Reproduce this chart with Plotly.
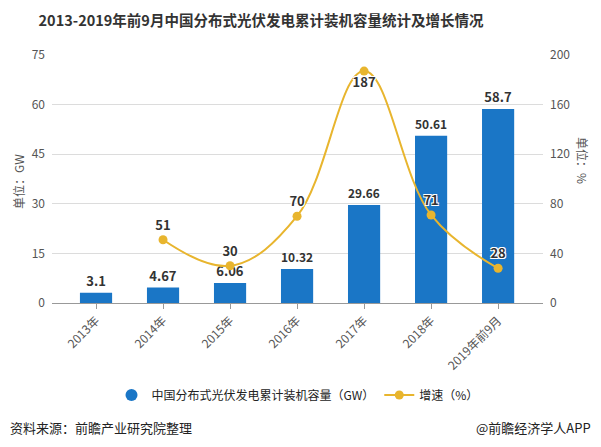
import plotly.graph_objects as go

categories = ["2013年", "2014年", "2015年", "2016年", "2017年", "2018年", "2019年前9月"]
capacity = [3.1, 4.67, 6.06, 10.32, 29.66, 50.61, 58.7]
growth_cats = ["2014年", "2015年", "2016年", "2017年", "2018年", "2019年前9月"]
growth = [51, 30, 70, 187, 71, 28]
left_ticks = [0, 15, 30, 45, 60, 75]
right_ticks = [0, 40, 80, 120, 160, 200]

W, H = 601, 447
L, R, T, B = 52, 543, 55, 303
FONT = "Noto Sans CJK SC, Noto Sans, sans-serif"
BLUE = "#1a76c6"
GOLD = "#e8b52e"

def px_x(p):
    return (p - L) / (R - L)

def px_y(p):
    return (B - p) / (B - T)

idx = {c: i for i, c in enumerate(categories)}

fig = go.Figure()
fig.add_trace(go.Bar(
    x=list(range(len(categories))), y=capacity, name="中国分布式光伏发电累计装机容量（GW）",
    marker=dict(color=BLUE, line=dict(width=0)), width=0.48,
    text=[f"{v:g}" for v in capacity], textposition="outside",
    textfont=dict(family=FONT, size=13, color="#333333", weight="bold"),
    cliponaxis=False, yaxis="y", showlegend=False,
))
# legend entry for the bar series (circle symbol as in the reference)
fig.add_trace(go.Scatter(
    x=[None], y=[None], mode="markers", name="中国分布式光伏发电累计装机容量（GW）",
    marker=dict(color=BLUE, size=12, symbol="circle"), yaxis="y",
))
fig.add_trace(go.Scatter(
    x=[idx[c] for c in growth_cats], y=growth, name="增速（%）",
    mode="lines+markers+text", line=dict(color=GOLD, width=2, shape="spline", smoothing=1.1),
    marker=dict(color=GOLD, size=9),
    text=[str(v) for v in growth],
    textposition=["top center" if v < 150 else "bottom center" for v in growth],
    textfont=dict(family=FONT, size=13, color="#333333", weight="bold",
                  shadow="-1px -1px 0 #fff, 1px -1px 0 #fff, -1px 1px 0 #fff, 1px 1px 0 #fff"),
    cliponaxis=False, yaxis="y2",
))

fig.update_layout(
    width=W, height=H,
    margin=dict(l=L, r=W - R, t=T, b=H - B, pad=0, autoexpand=False),
    paper_bgcolor="white", plot_bgcolor="white",
    font=dict(family=FONT, size=12, color="#555555"),
    title=dict(text="<b>2013-2019年前9月中国分布式光伏发电累计装机容量统计及增长情况</b>",
               x=px_x(261), xref="paper", xanchor="center", yref="container", y=1 - 21 / H,
               yanchor="middle", font=dict(family=FONT, size=14.5, color="#333333")),
    xaxis=dict(range=[-0.657, 6.67], tickmode="array", tickvals=list(range(len(categories))),
               ticktext=categories, tickangle=-45, showgrid=False, showline=True,
               linecolor="#999999", linewidth=1, ticks="outside", ticklen=5, tickcolor="#999999",
               tickfont=dict(size=12, color="#555555"), zeroline=False, automargin=False),
    yaxis=dict(range=[0, 75], tickvals=left_ticks, showgrid=True, gridcolor="#dcdcdc",
               zeroline=False, showline=False, ticks="", tickfont=dict(size=12, color="#555555"),
               ticklabelstandoff=6, automargin=False),
    yaxis2=dict(range=[0, 200], tickvals=right_ticks, overlaying="y", side="right",
                showgrid=False, zeroline=False, showline=False, ticks="",
                tickfont=dict(size=12, color="#555555"), ticklabelstandoff=6, automargin=False),
    legend=dict(orientation="h", x=0.5, xanchor="center", yref="container", y=1 - 395 / H,
                yanchor="middle", font=dict(family=FONT, size=12, color="#222222"),
                itemwidth=30, traceorder="normal"),
    showlegend=True,
)

ann = [
    dict(text="单位：GW", x=px_x(18), y=px_y(182), textangle=-90, font=dict(size=12, color="#555555")),
    dict(text="单位：%", x=px_x(583), y=px_y(160), textangle=90, font=dict(size=12, color="#555555")),
    dict(text="资料来源：前瞻产业研究院整理", x=px_x(8), y=px_y(427), xanchor="left",
         font=dict(size=13, color="#222222")),
    dict(text="@前瞻经济学人APP", x=px_x(593), y=px_y(427), xanchor="right",
         font=dict(size=13, color="#222222")),
]
for a in ann:
    a.setdefault("xanchor", "center")
    fig.add_annotation(xref="paper", yref="paper", showarrow=False, yanchor="middle", **a)

fig.write_html("out.html", config={"displayModeBar": False},
               post_script="document.body.style.margin='0';document.body.style.overflow='hidden';")
